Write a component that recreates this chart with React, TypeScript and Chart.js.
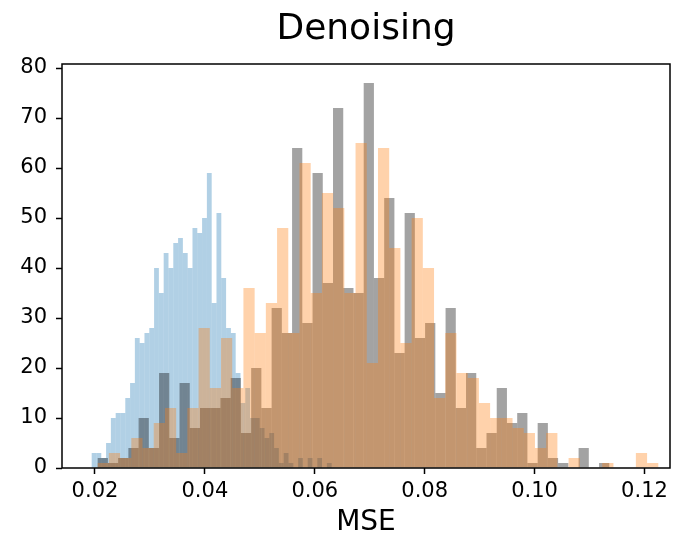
import { useEffect, useRef } from "react";
import { Chart, registerables } from "chart.js";

Chart.register(...registerables);

// Histogram bin ranges [first edge, last edge] in MSE units; each series has 50 equal bins.
const blueRange = [0.0194, 0.06308];
const grayRange = [0.02049, 0.11359];
const orangeRange = [0.02049, 0.12251];

// Counts per bin.
const blueCounts = [
  3, 3, 2, 5, 10, 11, 11, 14, 17, 26, 25, 27, 28, 40, 35, 43, 40, 45, 46, 43, 40, 48, 47, 50, 59,
  33, 51, 38, 28, 27, 19, 13, 16, 10, 10, 8, 6, 7, 4, 1, 3, 1, 0, 2, 0, 2, 0, 2, 0, 1,
];
const grayCounts = [
  2, 1, 2, 4, 10, 4, 19, 6, 17, 8, 12, 12, 14, 18, 7, 20, 12, 32, 27, 64, 29, 59, 37, 72, 36,
  35, 77, 38, 54, 23, 51, 26, 29, 15, 32, 12, 19, 4, 7, 16, 9, 11, 1, 9, 2, 1, 0, 4, 0, 1,
];
const orangeCounts = [
  1, 3, 2, 6, 4, 9, 12, 3, 12, 28, 16, 26, 16, 36, 27, 33, 48, 27, 61, 35, 55, 52, 35, 65, 21,
  64, 44, 25, 50, 40, 14, 27, 19, 18, 13, 10, 10, 8, 7, 4, 7, 0, 2, 0, 0, 1, 0, 0, 3, 1,
];

const xTicks = [0.02, 0.04, 0.06, 0.08, 0.1, 0.12];
const yTicks = [0, 10, 20, 30, 40, 50, 60, 70, 80];

const X_MIN = 0.014;
const X_MAX = 0.12464;
const Y_MAX = 80.8;

const FAMILY = "'DejaVu Sans', 'Noto Sans', sans-serif";

function binPoints(range: number[], counts: number[]) {
  const [lo, hi] = range;
  const w = (hi - lo) / counts.length;
  return counts.map((c, i) => ({ x: lo + (i + 0.5) * w, y: c }));
}

// Full box around the plotting area.
const framePlugin = {
  id: "frame",
  afterDatasetsDraw(chart: any) {
    const { ctx, chartArea: a } = chart;
    ctx.save();
    ctx.strokeStyle = "#000";
    ctx.lineWidth = 1.5;
    ctx.strokeRect(a.left, a.top, a.right - a.left, a.bottom - a.top);
    ctx.restore();
  },
};

const hiddenX = {
  type: "linear" as const,
  display: false,
  min: X_MIN,
  max: X_MAX,
  offset: false,
  grid: { offset: false },
};

export default function App() {
  const canvasRef = useRef<HTMLCanvasElement | null>(null);

  useEffect(() => {
    const canvas = canvasRef.current;
    if (!canvas) return;
    const tickFont = { family: FAMILY, size: 21 };
    const chart = new Chart(canvas, {
      type: "bar",
      data: {
        datasets: [
          {
            label: "orange",
            data: binPoints(orangeRange, orangeCounts),
            xAxisID: "xo",
            backgroundColor: "rgba(255,127,14,0.35)",
            order: 0,
          },
          {
            label: "gray",
            data: binPoints(grayRange, grayCounts),
            xAxisID: "xg",
            backgroundColor: "rgba(0,0,0,0.36)",
            order: 1,
          },
          {
            label: "blue",
            data: binPoints(blueRange, blueCounts),
            xAxisID: "x",
            backgroundColor: "rgba(31,119,180,0.35)",
            order: 2,
          },
        ],
      },
      options: {
        animation: false,
        responsive: false,
        devicePixelRatio: 1,
        datasets: {
          bar: {
            barPercentage: 1,
            categoryPercentage: 1,
            borderWidth: 0,
            inflateAmount: 0,
            grouped: false,
          },
        },
        layout: { padding: { left: 0, right: 4, top: 0, bottom: 0 } },
        plugins: {
          legend: { display: false },
          tooltip: { enabled: false },
          title: {
            display: true,
            text: "Denoising",
            fullSize: false,
            color: "#000",
            font: { family: FAMILY, size: 36, weight: "normal" },
            padding: { top: 8.4, bottom: 12.4 },
          },
        },
        scales: {
          x: {
            type: "linear",
            position: "bottom",
            min: X_MIN,
            max: X_MAX,
            offset: false,
            afterBuildTicks: (axis: any) => {
              axis.ticks = xTicks.map((v) => ({ value: v }));
            },
            afterFit: (s: any) => {
              s.height = 66;
            },
            ticks: {
              font: tickFont,
              color: "#000",
              padding: 5,
              maxRotation: 0,
              autoSkip: false,
              callback: (v: any) => Number(v).toFixed(2),
            },
            grid: {
              offset: false,
              drawOnChartArea: false,
              drawTicks: true,
              tickLength: 6,
              tickWidth: 1.5,
              tickColor: "#000",
            },
            border: { display: false },
            title: {
              display: true,
              text: "MSE",
              color: "#000",
              font: { family: FAMILY, size: 28, lineHeight: 0.8 },
              padding: 0,
            },
          },
          xg: hiddenX,
          xo: hiddenX,
          y: {
            type: "linear",
            min: 0,
            max: Y_MAX,
            afterBuildTicks: (axis: any) => {
              axis.ticks = yTicks.map((v) => ({ value: v }));
            },
            afterFit: (s: any) => {
              s.width = 62;
            },
            ticks: { font: tickFont, color: "#000", padding: 9 },
            grid: {
              drawOnChartArea: false,
              drawTicks: true,
              tickLength: 6,
              tickWidth: 1.5,
              tickColor: "#000",
            },
            border: { display: false },
          },
        },
      },
      plugins: [framePlugin],
    });
    return () => chart.destroy();
  }, []);

  return (
    <div style={{ position: "absolute", left: 0, top: 0, width: 674, height: 534, background: "#fff" }}>
      <canvas ref={canvasRef} width={674} height={534} />
    </div>
  );
}
